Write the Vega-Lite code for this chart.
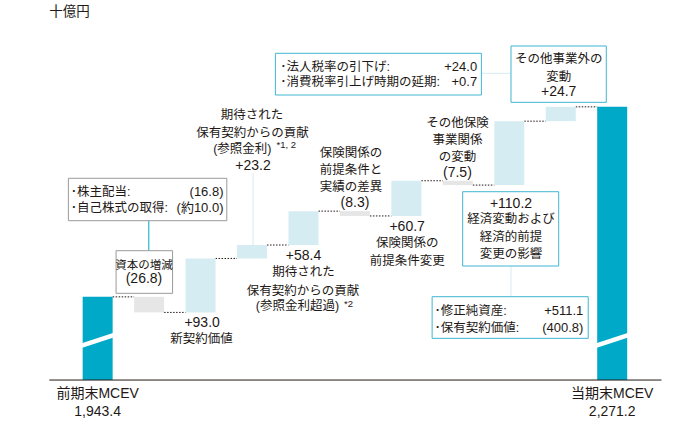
{
  "$schema": "https://vega.github.io/schema/vega-lite/v6.json",
  "width": 700,
  "height": 425,
  "autosize": "none",
  "padding": 0,
  "background": "white",
  "config": {
    "view": {"stroke": null},
    "text": {"font": "Liberation Sans, Noto Sans CJK JP", "fontSize": 12.5, "color": "#231815", "baseline": "middle"}
  },
  "encoding": {
    "x": {"field": "x", "type": "quantitative", "scale": {"domain": [-0.8008, 12.6092], "nice": false, "zero": false}, "axis": null},
    "y": {"field": "y", "type": "quantitative", "scale": {"domain": [1722.5, 2455.2], "nice": false, "zero": false}, "axis": null}
  },
  "datasets": {
    "steps": [
      {"x": 1, "name": "前期末MCEV", "y": 1800, "end": 1943.4, "kind": "total"},
      {"x": 2, "name": "資本の増減", "y": 1943.4, "end": 1916.6, "kind": "down"},
      {"x": 3, "name": "新契約価値", "y": 1916.6, "end": 2009.6, "kind": "up"},
      {"x": 4, "name": "期待された保有契約からの貢献(参照金利)", "y": 2009.6, "end": 2032.8, "kind": "up"},
      {"x": 5, "name": "期待された保有契約からの貢献(参照金利超過)", "y": 2032.8, "end": 2091.2, "kind": "up"},
      {"x": 6, "name": "保険関係の前提条件と実績の差異", "y": 2091.2, "end": 2082.9, "kind": "down"},
      {"x": 7, "name": "保険関係の前提条件変更", "y": 2082.9, "end": 2143.6, "kind": "up"},
      {"x": 8, "name": "その他保険事業関係の変動", "y": 2143.6, "end": 2136.1, "kind": "down"},
      {"x": 9, "name": "経済変動および経済的前提変更の影響", "y": 2136.1, "end": 2246.3, "kind": "up"},
      {"x": 10, "name": "その他事業外の変動", "y": 2246.3, "end": 2271.0, "kind": "up"},
      {"x": 11, "name": "当期末MCEV", "y": 1800, "end": 2271.2, "kind": "total"}
    ],
    "links": [
      {"x": 1, "x2": 2, "y": 1943.4},
      {"x": 2, "x2": 3, "y": 1916.6},
      {"x": 3, "x2": 4, "y": 2009.6},
      {"x": 4, "x2": 5, "y": 2032.8},
      {"x": 5, "x2": 6, "y": 2091.2},
      {"x": 6, "x2": 7, "y": 2082.9},
      {"x": 7, "x2": 8, "y": 2143.6},
      {"x": 8, "x2": 9, "y": 2136.1},
      {"x": 9, "x2": 10, "y": 2246.3},
      {"x": 10, "x2": 11, "y": 2271.0}
    ],
    "breaks": [
      {"x": 1, "y": 1859.5, "y2": 1877.6},
      {"x": 11, "y": 1859.5, "y2": 1877.6}
    ],
    "baseline": [{"x": 0.061, "x2": 11.958, "y": 1800}],
    "leaders": [
      {"x": 1.994, "x2": 1.994, "y": 2074.7, "y2": 2023.0, "g": "grey"},
      {"x": 4.02, "x2": 4.02, "y": 2156.4, "y2": 2032.8, "g": "teal"},
      {"x": 8.458, "x2": 9.033, "y": 2328.8, "y2": 2328.8, "g": "teal"},
      {"x": 9.033, "x2": 9.033, "y": 1996.6, "y2": 1943.7, "g": "teal"}
    ],
    "boxes": [
      {"x": 0.431, "x2": 3.510, "y": 2147.8, "y2": 2074.7, "g": "grey"},
      {"x": 1.358, "x2": 2.456, "y": 2023.0, "y2": 1949.5, "g": "grey"},
      {"x": 4.454, "x2": 8.458, "y": 2363.3, "y2": 2291.4, "g": "teal"},
      {"x": 9.033, "x2": 10.885, "y": 2375.9, "y2": 2278.8, "g": "teal"},
      {"x": 8.094, "x2": 9.960, "y": 2124.7, "y2": 1996.6, "g": "teal"},
      {"x": 7.5, "x2": 10.534, "y": 1943.7, "y2": 1871.9, "g": "teal"}
    ],
    "texts": [
      {"t": "資本の増減", "x": 1.900, "y": 1996.6, "role": "small", "al": "c"},
      {"t": "(26.8)", "x": 1.900, "y": 1973.7, "role": "value", "al": "c"},
      {"t": "+93.0", "x": 3.03, "y": 1897.8, "role": "value", "al": "c"},
      {"t": "新契約価値", "x": 3.02, "y": 1870.2, "role": "label", "al": "c"},
      {"t": "期待された", "x": 4.0, "y": 2256.9, "role": "label", "al": "c"},
      {"t": "保有契約からの貢献", "x": 4.01, "y": 2225.4, "role": "label", "al": "c"},
      {"t": "(参照金利)", "x": 3.812, "y": 2197.8, "role": "label", "al": "c"},
      {"t": "+23.2", "x": 4.02, "y": 2169.0, "role": "value", "al": "c"},
      {"t": "+58.4", "x": 5.0, "y": 2014.4, "role": "value", "al": "c"},
      {"t": "期待された", "x": 5.0, "y": 1985.7, "role": "label", "al": "c"},
      {"t": "保有契約からの貢献", "x": 4.99, "y": 1954.0, "role": "label", "al": "c"},
      {"t": "(参照金利超過)", "x": 4.883, "y": 1927.6, "role": "label", "al": "c"},
      {"t": "保険関係の", "x": 5.923, "y": 2190.9, "role": "label", "al": "c"},
      {"t": "前提条件と", "x": 5.923, "y": 2162.1, "role": "label", "al": "c"},
      {"t": "実績の差異", "x": 5.923, "y": 2133.3, "role": "label", "al": "c"},
      {"t": "(8.3)", "x": 6.0, "y": 2104.7, "role": "value", "al": "c"},
      {"t": "+60.7", "x": 7.015, "y": 2064.3, "role": "value", "al": "c"},
      {"t": "保険関係の", "x": 7.015, "y": 2035.7, "role": "label", "al": "c"},
      {"t": "前提条件変更", "x": 7.015, "y": 2005.7, "role": "label", "al": "c"},
      {"t": "その他保険", "x": 7.992, "y": 2242.6, "role": "label", "al": "c"},
      {"t": "事業関係", "x": 7.992, "y": 2213.8, "role": "label", "al": "c"},
      {"t": "の変動", "x": 7.992, "y": 2185.0, "role": "label", "al": "c"},
      {"t": "(7.5)", "x": 7.992, "y": 2157.4, "role": "value", "al": "c"},
      {"t": "+110.2", "x": 9.033, "y": 2103.0, "role": "value", "al": "c"},
      {"t": "経済変動および", "x": 9.033, "y": 2077.1, "role": "label", "al": "c"},
      {"t": "経済的前提", "x": 9.033, "y": 2047.1, "role": "label", "al": "c"},
      {"t": "変更の影響", "x": 9.033, "y": 2017.3, "role": "label", "al": "c"},
      {"t": "その他事業外の", "x": 9.96, "y": 2353.0, "role": "label", "al": "c"},
      {"t": "変動", "x": 9.96, "y": 2323.0, "role": "label", "al": "c"},
      {"t": "+24.7", "x": 9.96, "y": 2296.1, "role": "value", "al": "c"},
      {"t": "前期末MCEV", "x": 1.0, "y": 1775.9, "role": "value", "al": "c"},
      {"t": "1,943.4", "x": 1.0, "y": 1744.9, "role": "value", "al": "c"},
      {"t": "当期末MCEV", "x": 11.0, "y": 1775.9, "role": "value", "al": "c"},
      {"t": "2,271.2", "x": 11.0, "y": 1744.9, "role": "value", "al": "c"},
      {"t": "十億円", "x": 0.061, "y": 2434.5, "role": "unit", "al": "l"},
      {"t": "･株主配当:", "x": 0.479, "y": 2123.7, "role": "label", "al": "l"},
      {"t": "･自己株式の取得:", "x": 0.479, "y": 2096.1, "role": "label", "al": "l"},
      {"t": "･法人税率の引下げ:", "x": 4.548, "y": 2340.2, "role": "label", "al": "l"},
      {"t": "･消費税率引上げ時期の延期:", "x": 4.548, "y": 2313.3, "role": "label", "al": "l"},
      {"t": "･修正純資産:", "x": 7.548, "y": 1919.5, "role": "label", "al": "l"},
      {"t": "･保有契約価値:", "x": 7.548, "y": 1890.2, "role": "label", "al": "l"},
      {"t": "*1, 2", "x": 4.477, "y": 2205.2, "role": "sup", "al": "l"},
      {"t": "*2", "x": 5.79, "y": 1931.3, "role": "sup", "al": "l"},
      {"t": "(16.8)", "x": 3.446, "y": 2123.7, "role": "box", "al": "r"},
      {"t": "(約10.0)", "x": 3.446, "y": 2096.1, "role": "box", "al": "r"},
      {"t": "+24.0", "x": 8.375, "y": 2340.2, "role": "box", "al": "r"},
      {"t": "+0.7", "x": 8.375, "y": 2313.3, "role": "box", "al": "r"},
      {"t": "+511.1", "x": 10.439, "y": 1919.5, "role": "box", "al": "r"},
      {"t": "(400.8)", "x": 10.439, "y": 1890.2, "role": "box", "al": "r"}
    ]
  },
  "layer": [
    {
      "data": {"name": "links"},
      "mark": {"type": "rule", "xOffset": 15, "x2Offset": -15, "strokeDash": [1.5, 1.5], "strokeWidth": 1, "color": "#231815"},
      "encoding": {"x2": {"field": "x2"}}
    },
    {
      "data": {"name": "steps"},
      "mark": {"type": "bar", "width": 30},
      "encoding": {
        "y2": {"field": "end"},
        "color": {"field": "kind", "type": "nominal", "scale": {"domain": ["total", "up", "down"], "range": ["#00a9c8", "#d5ecf2", "#e6e6e6"]}, "legend": null}
      }
    },
    {
      "data": {"name": "breaks"},
      "mark": {"type": "rule", "xOffset": -16, "x2Offset": 16, "strokeWidth": 4.5, "color": "white"},
      "encoding": {"x2": {"field": "x"}, "y2": {"field": "y2"}}
    },
    {
      "data": {"name": "baseline"},
      "mark": {"type": "rule", "strokeWidth": 1, "color": "#231815"},
      "encoding": {"x2": {"field": "x2"}}
    },
    {
      "data": {"name": "leaders"},
      "mark": {"type": "rule", "strokeWidth": 1},
      "encoding": {
        "x2": {"field": "x2"},
        "y2": {"field": "y2"},
        "color": {"field": "g", "type": "nominal", "scale": {"domain": ["grey", "teal"], "range": ["#9a9a9a", "#3fb6d0"]}, "legend": null}
      }
    },
    {
      "data": {"name": "boxes"},
      "mark": {"type": "rect", "fill": "white", "strokeWidth": 1},
      "encoding": {
        "x2": {"field": "x2"},
        "y2": {"field": "y2"},
        "stroke": {"field": "g", "type": "nominal", "scale": {"domain": ["grey", "teal"], "range": ["#9a9a9a", "#3fb6d0"]}, "legend": null}
      }
    },
    {
      "data": {"name": "texts"},
      "transform": [{"filter": "datum.al == 'c' && datum.role == 'label'"}],
      "mark": {"type": "text", "align": "center", "fontSize": 12.5},
      "encoding": {"text": {"field": "t"}}
    },
    {
      "data": {"name": "texts"},
      "transform": [{"filter": "datum.al == 'c' && datum.role == 'value'"}],
      "mark": {"type": "text", "align": "center", "fontSize": 14},
      "encoding": {"text": {"field": "t"}}
    },
    {
      "data": {"name": "texts"},
      "transform": [{"filter": "datum.al == 'c' && datum.role == 'small'"}],
      "mark": {"type": "text", "align": "center", "fontSize": 11.5},
      "encoding": {"text": {"field": "t"}}
    },
    {
      "data": {"name": "texts"},
      "transform": [{"filter": "datum.al == 'l' && datum.role == 'label'"}],
      "mark": {"type": "text", "align": "left", "fontSize": 12.5},
      "encoding": {"text": {"field": "t"}}
    },
    {
      "data": {"name": "texts"},
      "transform": [{"filter": "datum.al == 'l' && datum.role == 'unit'"}],
      "mark": {"type": "text", "align": "left", "fontSize": 13.5},
      "encoding": {"text": {"field": "t"}}
    },
    {
      "data": {"name": "texts"},
      "transform": [{"filter": "datum.al == 'l' && datum.role == 'sup'"}],
      "mark": {"type": "text", "align": "left", "fontSize": 9.5},
      "encoding": {"text": {"field": "t"}}
    },
    {
      "data": {"name": "texts"},
      "transform": [{"filter": "datum.al == 'r' && datum.role == 'box'"}],
      "mark": {"type": "text", "align": "right", "fontSize": 13},
      "encoding": {"text": {"field": "t"}}
    }
  ]
}
